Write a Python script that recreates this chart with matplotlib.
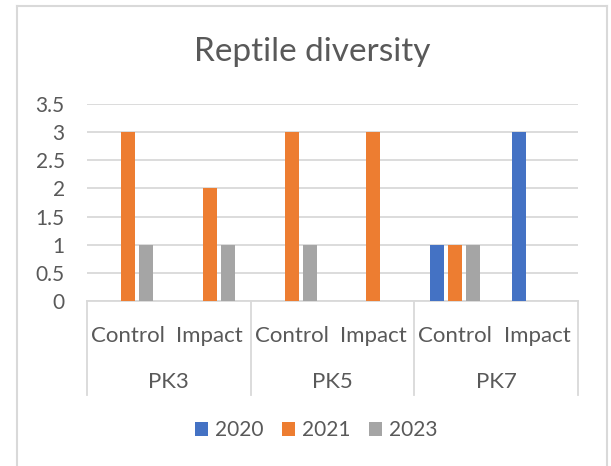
import matplotlib.pyplot as plt
from matplotlib.lines import Line2D
from matplotlib.patches import Patch
import numpy as np

plt.rcParams['font.family'] = ['Lato', 'DejaVu Sans']

sites = ["PK3", "PK5", "PK7"]
treatments = ["Control", "Impact"]
years = ["2020", "2021", "2023"]
values_2020 = [0, 0, 0, 0, 1, 3]
values_2021 = [3, 2, 3, 3, 1, 0]
values_2023 = [1, 1, 1, 0, 1, 0]
colors = ["#4472C4", "#ED7D31", "#A5A5A5"]
text_color = "#595959"
grid_color = "#D9D9D9"

W, H = 611, 466
fig = plt.figure(figsize=(W / 100, H / 100), dpi=100)
ax = fig.add_axes([87 / W, 1 - 301 / H, (578 - 87) / W, (301 - 104) / H])
ax_h = 301 - 104

x = np.arange(len(sites) * len(treatments))
width = 0.17
step = 0.22
for i, (vals, c) in enumerate(zip([values_2020, values_2021, values_2023], colors)):
    ax.bar(x + (i - 1) * step, vals, width=width, color=c, zorder=3)

ax.set_xlim(-0.5, len(x) - 0.5)
ax.set_ylim(0, 3.5)
ax.set_yticks(np.arange(0, 3.51, 0.5))
ax.set_yticklabels(["0", "0.5", "1", "1.5", "2", "2.5", "3", "3.5"])
ax.tick_params(axis='y', length=0, labelsize=15, labelcolor=text_color, pad=16)
ax.set_xticks([])
ax.grid(axis='y', color=grid_color, linewidth=1.3, zorder=0)
for s in ["top", "right", "left"]:
    ax.spines[s].set_visible(False)
ax.spines["bottom"].set_color(grid_color)
ax.spines["bottom"].set_linewidth(1.3)

# two-level category axis drawn below the plot
box_bottom = -(395 - 301) / ax_h
for k in range(len(sites) + 1):
    ax.plot([k / 3, k / 3], [0, box_bottom], transform=ax.transAxes,
            color=grid_color, lw=1.3, clip_on=False)
for j, lab in enumerate(treatments * len(sites)):
    ax.text((j + 0.5) / 6, -(342 - 301) / ax_h, lab, transform=ax.transAxes,
            ha='center', va='baseline', fontsize=16, color=text_color)
for k, site in enumerate(sites):
    ax.text((k + 0.5) / 3, -(388 - 301) / ax_h, site, transform=ax.transAxes,
            ha='center', va='baseline', fontsize=16, color=text_color)

fig.text(312 / W, 1 - 61 / H, "Reptile diversity", ha='center', va='baseline',
         fontsize=24, color=text_color)

handles = [Patch(facecolor=c, edgecolor='none') for c in colors]
fig.legend(handles, years, loc='center', bbox_to_anchor=(316 / W, 1 - 430 / H),
           ncol=3, frameon=False, fontsize=15, labelcolor=text_color,
           handlelength=0.65, handleheight=0.65, handletextpad=0.3, columnspacing=0.9)

# outer chart border
for xs, ys in [([17, 17], [466, 6]), ([17, 607], [6, 6]), ([607, 607], [6, 466])]:
    fig.add_artist(Line2D([v / W for v in xs], [1 - v / H for v in ys],
                          color=grid_color, lw=1.5))

fig.savefig("out.png", dpi=100)
